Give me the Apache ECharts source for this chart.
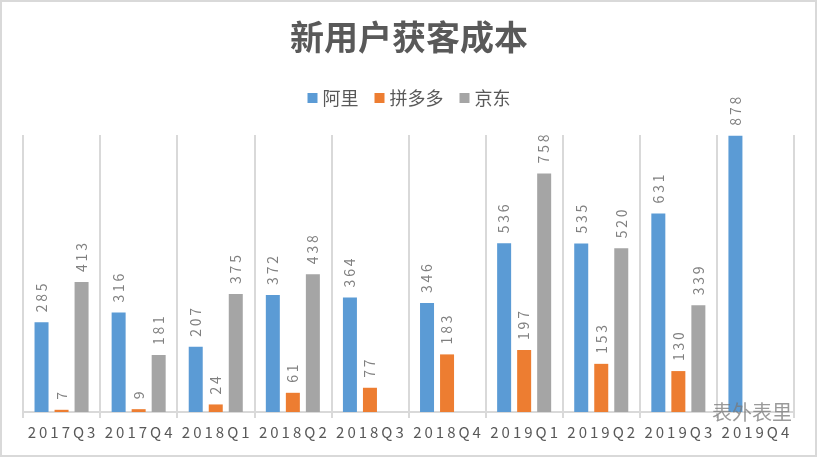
<!DOCTYPE html>
<html>
<head>
<meta charset="utf-8">
<script src="https://cdn.jsdelivr.net/npm/echarts@6/dist/echarts.min.js"></script>
<style>
  html, body { margin: 0; padding: 0; background: #fff; }
  #chart { width: 818px; height: 458px; }
</style>
</head>
<body>
<div id="chart"></div>
<script>
// quarters on the x axis
let quarters = ["2017Q3", "2017Q4", "2018Q1", "2018Q2", "2018Q3", "2018Q4", "2019Q1", "2019Q2", "2019Q3", "2019Q4"];
// new-customer acquisition cost per platform
let aliData = [285, 316, 207, 372, 364, 346, 536, 535, 631, 878];
let pddData = [7, 9, 24, 61, 77, 183, 197, 153, 130, null];
let jdData = [413, 181, 375, 438, null, null, 758, 520, 339, null];

let chart = echarts.init(document.getElementById("chart"));
let font = "'Microsoft YaHei', 'Noto Sans CJK SC', sans-serif";

function barSeries(name, color, data) {
    return {
        name: name,
        type: "bar",
        barWidth: 14,
        barGap: "43%",
        itemStyle: { color: color },
        label: {
            show: true,
            position: "top",
            rotate: 90,
            align: "left",
            verticalAlign: "middle",
            distance: 10,
            color: "#808080",
            fontSize: 14,
            fontFamily: font,
            formatter: function(p) {
                return String(p.value).split("").join("\u2009");
            }
        },
        data: data
    };
}

let option = {
    backgroundColor: "#fff",
    animation: false,
    title: {
        text: "新用户获客成本",
        left: "center",
        top: 15,
        textStyle: {
            color: "#595959",
            fontSize: 34,
            fontWeight: "bold",
            fontFamily: font
        }
    },
    legend: {
        top: 84,
        left: "center",
        itemWidth: 10,
        itemHeight: 10,
        itemGap: 16,
        icon: "rect",
        textStyle: { color: "#595959", fontSize: 18, fontFamily: font },
        data: ["阿里", "拼多多", "京东"]
    },
    grid: {
        left: 23,
        right: 24,
        top: 135,
        bottom: 46
    },
    xAxis: {
        type: "category",
        data: quarters,
        axisLine: { lineStyle: { color: "#d9d9d9", width: 2 } },
        axisTick: { show: true, interval: 0, length: 6, lineStyle: { color: "#d9d9d9", width: 2 } },
        splitLine: { show: true, interval: 0, lineStyle: { color: "#d9d9d9", width: 2 } },
        axisLabel: {
            interval: 0,
            margin: 13,
            color: "#595959",
            fontSize: 15,
            fontFamily: font,
            formatter: function(v) {
                return v.split("").join("\u2009");
            }
        }
    },
    yAxis: {
        type: "value",
        min: 0,
        max: 880,
        show: false,
        splitLine: { show: false }
    },
    graphic: [
        {
            type: "rect",
            shape: { x: 1, y: 1, width: 815, height: 455 },
            style: { fill: "none", stroke: "#d9d9d9", lineWidth: 2 },
            silent: true
        },
        {
            type: "text",
            left: 712,
            top: 402,
            z: 10,
            style: {
                text: "表外表里",
                fill: "rgba(120,120,120,0.75)",
                font: "20px " + font
            }
        }
    ],
    series: [
        barSeries("阿里", "#5b9bd5", aliData),
        barSeries("拼多多", "#ed7d31", pddData),
        barSeries("京东", "#a5a5a5", jdData)
    ]
};
chart.setOption(option, true);
</script>
</body>
</html>
